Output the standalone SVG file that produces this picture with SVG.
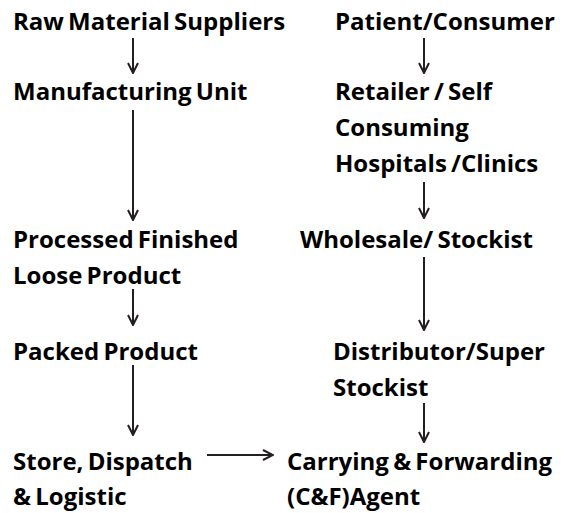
<svg xmlns="http://www.w3.org/2000/svg" width="567" height="513" viewBox="0 0 567 513">
  <defs>
    <style>
      .lbl { font-family: "Open Sans", Lato, "Liberation Sans", sans-serif; font-weight: bold; font-size: 24px; fill: #000; word-spacing: -2px; }
      .edge { stroke: #231f20; stroke-width: 2; fill: none; }
    </style>
    <marker id="arrow" viewBox="0 0 12 12" refX="11" refY="6" markerWidth="12" markerHeight="12" markerUnits="userSpaceOnUse" orient="auto">
      <path d="M1,1 L11,6 L1,11" fill="none" stroke="#231f20" stroke-width="2"/>
    </marker>
  </defs>
  <rect width="567" height="513" fill="#fff"/>

  <!-- supply side (left column) -->
  <g id="raw-material"><text class="lbl" x="13" y="30">Raw Material Suppliers</text></g>
  <g id="manufacturing"><text class="lbl" x="13" y="100">Manufacturing Unit</text></g>
  <g id="finished-loose"><text class="lbl" x="13" y="248">Processed Finished</text><text class="lbl" x="13" y="284">Loose Product</text></g>
  <g id="packed"><text class="lbl" x="13" y="360">Packed Product</text></g>
  <g id="store-dispatch"><text class="lbl" x="13" y="470">Store, Dispatch</text><text class="lbl" x="13" y="505">&amp; Logistic</text></g>

  <!-- demand side (right column) -->
  <g id="patient"><text class="lbl" x="335" y="30">Patient/Consumer</text></g>
  <g id="retailer"><text class="lbl" x="335" y="100">Retailer / Self</text><text class="lbl" x="335" y="136">Consuming</text><text class="lbl" x="335" y="172">Hospitals /Clinics</text></g>
  <g id="wholesale"><text class="lbl" x="300" y="248">Wholesale/ Stockist</text></g>
  <g id="distributor"><text class="lbl" x="333" y="360">Distributor/Super</text><text class="lbl" x="333" y="396">Stockist</text></g>
  <g id="cf-agent"><text class="lbl" x="287" y="470">Carrying &amp; Forwarding</text><text class="lbl" x="287" y="505">(C&amp;F)Agent</text></g>

  <g id="connectors">
    <line class="edge" x1="133" y1="38" x2="133" y2="73" marker-end="url(#arrow)"/>
    <line class="edge" x1="133" y1="110" x2="133" y2="220" marker-end="url(#arrow)"/>
    <line class="edge" x1="133" y1="289" x2="133" y2="325" marker-end="url(#arrow)"/>
    <line class="edge" x1="133" y1="365" x2="133" y2="435" marker-end="url(#arrow)"/>
    <line class="edge" x1="207" y1="455" x2="273" y2="455" marker-end="url(#arrow)"/>
    <line class="edge" x1="424" y1="38" x2="424" y2="73" marker-end="url(#arrow)"/>
    <line class="edge" x1="424" y1="182" x2="424" y2="218" marker-end="url(#arrow)"/>
    <line class="edge" x1="424" y1="257" x2="424" y2="330" marker-end="url(#arrow)"/>
    <line class="edge" x1="424" y1="403" x2="424" y2="442" marker-end="url(#arrow)"/>
  </g>
</svg>
